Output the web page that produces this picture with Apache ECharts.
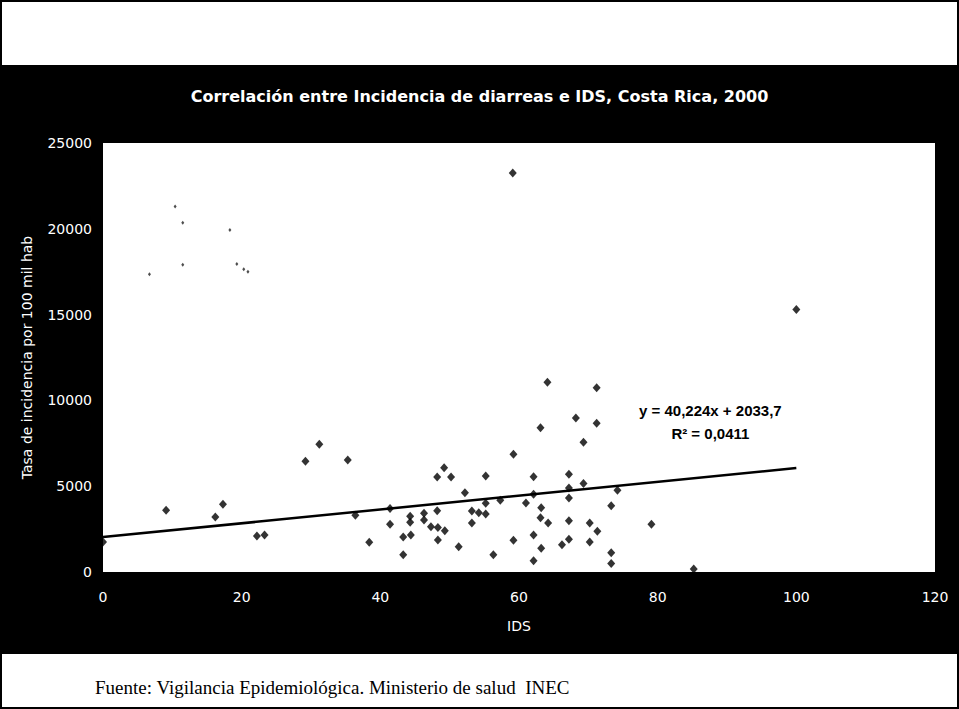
<!DOCTYPE html>
<html>
<head>
<meta charset="utf-8">
<script src="https://cdn.jsdelivr.net/npm/echarts@6/dist/echarts.min.js"></script>
<style>
  html, body { margin: 0; padding: 0; background: #fff; }
  #chart { width: 959px; height: 709px; }
</style>
</head>
<body>
<div id="chart"></div>
<script>
// IDS (índice de desarrollo social) and diarrhoea incidence per district
const idsValues = [
  0, 9.1, 16.2, 17.3, 22.2, 23.3, 29.2, 31.2, 35.3, 36.4,
  38.4, 41.4, 41.4, 43.3, 43.3, 44.3, 44.3, 44.4, 46.3, 46.3,
  47.3, 48.2, 48.2, 48.3, 48.3, 49.2, 49.3, 50.2, 51.3, 52.2,
  53.2, 53.2, 54.2, 55.2, 55.2, 55.2, 56.3, 57.3, 59.2, 59.2,
  59.1, 61.0, 62.1, 62.1, 62.1, 62.1, 63.1, 63.2, 63.1, 63.2,
  64.1, 64.2, 67.2, 67.2, 67.2, 67.2, 67.2, 66.2, 68.2, 69.3,
  69.3, 70.2, 70.2, 71.2, 71.2, 71.3, 73.3, 73.3, 73.3, 74.2,
  79.1, 85.2, 100
];
const incidenceValues = [
  1750, 3600, 3200, 3950, 2100, 2150, 6450, 7450, 6530, 3300,
  1730, 3700, 2780, 2040, 1000, 3250, 2900, 2150, 3420, 3030,
  2640, 5540, 3570, 2600, 1865, 6080, 2410, 5540, 1475, 4620,
  3555, 2855, 3455, 5595, 4000, 3380, 1010, 4175, 6860, 1845,
  23250, 4020, 5555, 4530, 2150, 650, 8400, 3750, 3165, 1380,
  11055, 2855, 5690, 4895, 4310, 2990, 1905, 1590, 8975, 7560,
  5160, 2850, 1750, 10740, 8665, 2370, 3860, 1115, 495, 4760,
  2780, 180, 15300
];
// districts whose markers print only as small specks
const faintIds = [6.7, 10.4, 11.5, 11.5, 18.3, 19.3, 20.3, 20.9];
const faintIncidence = [17350, 21300, 20350, 17900, 19930, 17950, 17650, 17500];

// axis ranges
const xMin = 0, xMax = 120, xStep = 20;
const yMin = 0, yMax = 25000, yStep = 5000;

// linear trend line: y = 40,224x + 2033,7 ; R² = 0,0411
const trendSlope = 40.224;
const trendIntercept = 2033.7;
const trendR2 = 0.0411;
const trendFrom = 0, trendTo = 100;

const fmt = (v, d) => v.toFixed(d).replace('.', ',');

const points = idsValues.map((x, i) => [x, incidenceValues[i]]);
const faintPoints = faintIds.map((x, i) => [x, faintIncidence[i]]);
const trendPoints = [trendFrom, trendTo].map(x => [x, trendSlope * x + trendIntercept]);

const W = 959, H = 709;
const chart = echarts.init(document.getElementById('chart'), null, { renderer: 'svg', width: W, height: H });

const sans = '"DejaVu Sans", Arial, sans-serif';
const tickFont = { color: '#fff', fontFamily: sans, fontSize: 14 };

chart.setOption({
  animation: false,
  backgroundColor: '#fff',
  title: {
    text: 'Correlación entre Incidencia de diarreas e IDS, Costa Rica, 2000',
    left: 'center',
    top: 83,
    textStyle: { color: '#fff', fontFamily: sans, fontSize: 16, fontWeight: 'bold' }
  },
  graphic: [
    { type: 'rect', z: -10, shape: { x: 1, y: 1, width: W - 2, height: H - 2 },
      style: { fill: '#fff', stroke: '#000', lineWidth: 2 } },
    { type: 'rect', z: -9, shape: { x: 2, y: 65, width: W - 4, height: 589 },
      style: { fill: '#000' } },
    { type: 'text', left: 95, top: 678,
      style: { text: 'Fuente: Vigilancia Epidemiológica. Ministerio de salud  INEC',
               fill: '#000', font: '19px "Liberation Serif", "Times New Roman", serif' } }
  ],
  grid: {
    left: 103, right: 24, top: 143, bottom: 137,
    show: true, backgroundColor: '#fff', borderWidth: 0
  },
  xAxis: {
    type: 'value', min: xMin, max: xMax, interval: xStep,
    name: 'IDS', nameLocation: 'middle', nameGap: 47,
    nameTextStyle: { color: '#fff', fontFamily: sans, fontSize: 14 },
    axisLine: { show: false }, axisTick: { show: false }, splitLine: { show: false },
    axisLabel: Object.assign({ margin: 18, formatter: v => String(v) }, tickFont)
  },
  yAxis: {
    type: 'value', min: yMin, max: yMax, interval: yStep,
    name: 'Tasa de incidencia por 100 mil hab', nameLocation: 'middle', nameGap: 69,
    nameTextStyle: { color: '#fff', fontFamily: sans, fontSize: 14 },
    axisLine: { show: false }, axisTick: { show: false }, splitLine: { show: false },
    axisLabel: Object.assign({ margin: 11, formatter: v => String(v) }, tickFont)
  },
  series: [
    {
      type: 'line', data: trendPoints, symbol: 'none', z: 3,
      lineStyle: { color: '#000', width: 2.5 },
      markPoint: {
        symbol: 'circle', symbolSize: 0,
        data: [{ coord: [87.6, 8740] }],
        label: {
          show: true, position: 'inside', color: '#000', align: 'center',
          fontFamily: '"Liberation Sans", Arial, sans-serif', fontSize: 15, fontWeight: 'bold',
          lineHeight: 23,
          formatter: () => 'y = ' + fmt(trendSlope, 3) + 'x + ' + fmt(trendIntercept, 1) +
                           '\nR² = ' + fmt(trendR2, 4)
        }
      }
    },
    {
      type: 'scatter', data: points, symbol: 'diamond', symbolSize: [8, 9], z: 4,
      itemStyle: { color: '#000' }
    },
    {
      type: 'scatter', data: faintPoints, symbol: 'diamond', symbolSize: [3, 4], z: 4,
      itemStyle: { color: '#222' }
    }
  ]
});
</script>
</body>
</html>
